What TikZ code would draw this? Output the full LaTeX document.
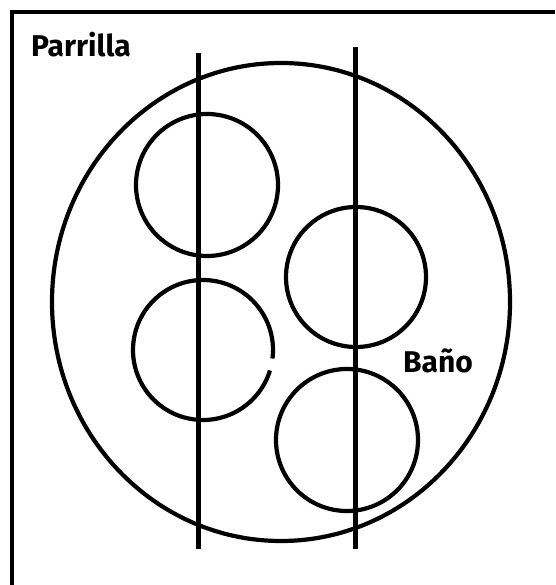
\documentclass[tikz,border=0pt]{standalone}
\usepackage{fontspec}
\setmainfont{Fira Sans}
\begin{document}
\begin{tikzpicture}[x=1pt,y=-1pt,
  ink/.style={line width=4.2pt,draw=black},
  bar/.style={line width=5pt,draw=black},
  frameline/.style={line width=4.5pt,draw=black},
  lbl/.style={font=\fontsize{30}{30}\selectfont\bfseries,inner sep=0pt,anchor=base west}]
\useasboundingbox (0,0) rectangle (555,585);
\fill[white] (0,0) rectangle (555,585);
% frame (only top and left visible)
\draw[frameline] (12,585) -- (12,12) -- (555,12);
% big circle
\draw[ink] (281,302) ellipse [x radius=229, y radius=239];
% small circles
\draw[ink] (207,185) circle [radius=71];
\draw[ink] (356,277) circle [radius=70];
\draw[ink] (203+70*cos 7, 350+70*sin 7) arc [start angle=-7, end angle=343, x radius=70, y radius=-70];
\draw[ink] (347,440) circle [radius=71];
% vertical bars
\draw[bar] (198,53) -- (198,549);
\draw[bar] (355,47) -- (355,549);
% labels
\node[lbl] (parrilla) at (31,57) {Parrilla};
\node[lbl] (bano) at (403,372) {Baño};
\end{tikzpicture}
\end{document}
